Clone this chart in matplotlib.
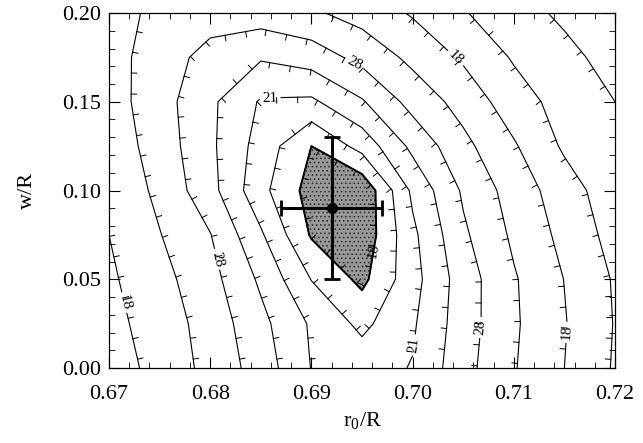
import numpy as np
import matplotlib
matplotlib.use("Agg")
import matplotlib.pyplot as plt

# grid of the fit surface (contour level units), rows = w/R, cols = r0/R
r0_grid = [0.670, 0.675, 0.680, 0.685, 0.690, 0.695, 0.700, 0.705, 0.710, 0.715, 0.720]
w_grid = [0.000, 0.025, 0.050, 0.075, 0.100, 0.125, 0.150, 0.175, 0.200]
chi_grid = np.array([
    [7.55, 6.64, 5.71, 4.55, 2.97, 2.60, 3.05, 4.65, 5.93, 7.00, 8.10],
    [7.33, 6.51, 5.61, 4.28, 2.87, 1.75, 2.87, 4.53, 5.86, 6.94, 8.05],
    [7.16, 6.33, 5.35, 3.83, 1.97, 0.75, 2.64, 4.50, 5.90, 7.02, 8.10],
    [7.00, 6.04, 5.04, 3.14, 0.90, 0.30, 2.78, 4.83, 6.18, 7.28, 8.36],
    [6.80, 5.77, 4.35, 2.30, 0.60, 0.20, 3.20, 5.14, 6.43, 7.53, 8.60],
    [6.60, 5.56, 4.20, 2.60, 1.00, 2.36, 4.25, 5.73, 6.89, 8.15, 8.80],
    [6.45, 5.42, 4.20, 2.90, 2.82, 3.90, 5.36, 6.37, 7.54, 8.39, 9.00],
    [6.40, 5.50, 4.65, 4.10, 4.46, 5.31, 6.25, 7.14, 8.10, 8.70, 9.40],
    [6.25, 5.85, 5.45, 5.50, 5.85, 6.39, 7.10, 7.93, 8.58, 9.20, 9.90],
])
labelled_levels = [1, 3, 5, 7]
plain_levels = [2, 4, 6, 8, 9]
level_labels = {1: '18', 3: '21', 5: '28', 7: '18'}

# best fit and errors
r0_best, r0_err = 0.692, 0.005
w_best, w_err = 0.090, 0.040

plt.rcParams['font.family'] = ['Liberation Serif', 'DejaVu Serif']
plt.rcParams['mathtext.fontset'] = 'custom'
plt.rcParams['mathtext.rm'] = 'Liberation Serif'
plt.rcParams['hatch.color'] = '0.2'
plt.rcParams['hatch.linewidth'] = 0.7

fig = plt.figure(figsize=(6.43, 4.43), dpi=100)
ax = fig.add_axes([109/643, 75/443, 506/643, 355/443])
ax.set_xlim(0.67, 0.72)
ax.set_ylim(0.0, 0.2)

X, Y = np.meshgrid(r0_grid, w_grid)
ax.contourf(X, Y, chi_grid, levels=[-1, 1], colors=['0.6'], hatches=['....'])
cs_lab = ax.contour(X, Y, chi_grid, levels=labelled_levels, colors='k', linewidths=0.8)
cs_rest = ax.contour(X, Y, chi_grid, levels=plain_levels, colors='k', linewidths=0.8)
ax.contour(X, Y, chi_grid, levels=[1], colors='k', linewidths=1.4)


def field_at(px, py):
    fx = np.interp(px, r0_grid, np.arange(len(r0_grid)))
    fy = np.interp(py, w_grid, np.arange(len(w_grid)))
    i = min(int(fx), len(r0_grid) - 2)
    j = min(int(fy), len(w_grid) - 2)
    tx, ty = fx - i, fy - j
    z = chi_grid
    return (z[j, i]*(1-tx)*(1-ty) + z[j, i+1]*tx*(1-ty)
            + z[j+1, i]*(1-tx)*ty + z[j+1, i+1]*tx*ty)


# downhill tick marks along the contours
trans = ax.transData
inv = trans.inverted()
for cs in (cs_lab, cs_rest):
    for lev, segs in zip(cs.levels, cs.allsegs):
        for seg in segs:
            if len(seg) < 2:
                continue
            d = trans.transform(seg)
            step = np.hypot(*np.diff(d, axis=0).T)
            s = np.concatenate([[0], np.cumsum(step)])
            for pos in np.arange(9, s[-1], 21):
                k = min(np.searchsorted(s, pos) - 1, len(d) - 2)
                k = max(k, 0)
                t = (pos - s[k]) / max(step[k], 1e-9)
                p = d[k] + t * (d[k+1] - d[k])
                tang = (d[k+1] - d[k]) / max(step[k], 1e-9)
                nrm = np.array([-tang[1], tang[0]])
                test = inv.transform(p + 2.5 * nrm)
                if field_at(*test) > lev:
                    nrm = -nrm
                end = p + 5.5 * nrm
                a, b = inv.transform([p, end])
                ax.plot([a[0], b[0]], [a[1], b[1]], color='k', lw=0.7)

label_spots = [
    (0.6963, 0.066),
    (0.6859, 0.152), (0.7000, 0.013),
    (0.6943, 0.172), (0.6812, 0.062), (0.7064, 0.023),
    (0.7045, 0.176), (0.6724, 0.038), (0.7154, 0.020),
]
ax.clabel(cs_lab, manual=label_spots, inline=True,
          fmt=level_labels, fontsize=11, colors='k', inline_spacing=3)

ax.errorbar([r0_best], [w_best], xerr=[r0_err], yerr=[w_err], fmt='o',
            color='k', ms=7, elinewidth=2.2, capsize=6, capthick=2.0)

ax.set_xticks([0.67, 0.68, 0.69, 0.70, 0.71, 0.72])
ax.set_xticklabels(['0.67', '0.68', '0.69', '0.70', '0.71', '0.72'])
ax.set_yticks([0.00, 0.05, 0.10, 0.15, 0.20])
ax.set_yticklabels(['0.00', '0.05', '0.10', '0.15', '0.20'])
ax.set_xticks(np.arange(0.67, 0.7201, 0.002), minor=True)
ax.set_yticks(np.arange(0.0, 0.2001, 0.01), minor=True)
ax.tick_params(which='both', direction='in', top=True, right=True, labelsize=16)
ax.tick_params(which='major', length=8, width=0.8)
ax.tick_params(which='minor', length=4, width=0.6)
ax.tick_params(axis='x', which='major', pad=12)
ax.tick_params(axis='y', which='major', pad=6)
for sp in ax.spines.values():
    sp.set_linewidth(0.9)

ax.set_xlabel(r'r$_{\mathrm{0}}$/R', fontsize=16, labelpad=5)
ax.set_ylabel('w/R', fontsize=16, labelpad=18)

fig.savefig('out.png', dpi=100)
